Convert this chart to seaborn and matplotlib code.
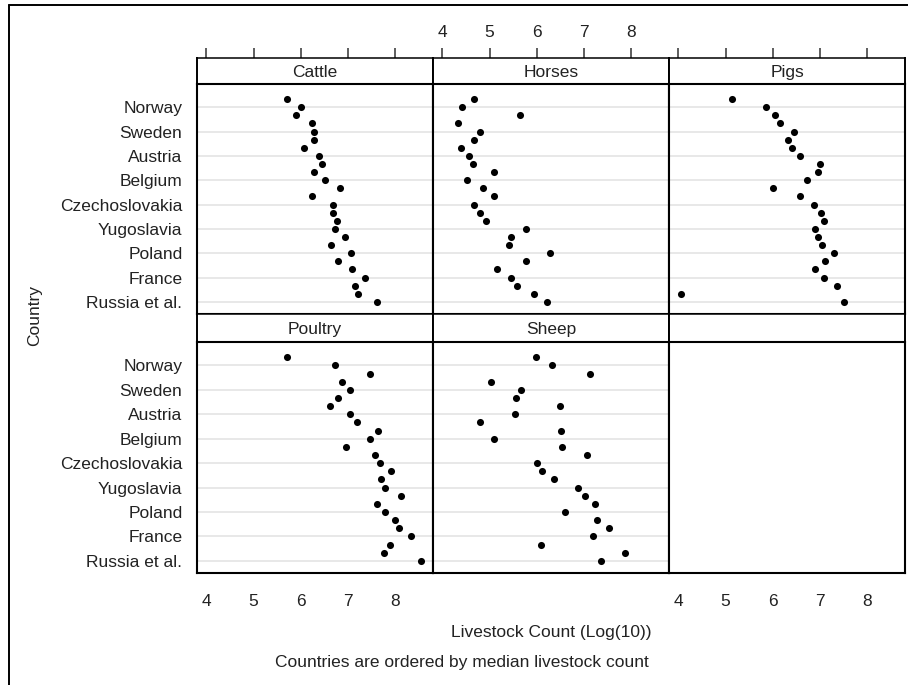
import matplotlib
matplotlib.use("Agg")
import matplotlib.pyplot as plt
from matplotlib.lines import Line2D
import numpy as np
import pandas as pd
import seaborn as sns

# ---------------- data ----------------
countries = ["Albania", "Norway", "Bulgaria", "Switzerland", "Sweden", "Finland",
             "Estonia", "Austria", "Latvia", "Lithuania", "Belgium", "Portugal",
             "Netherlands", "Czechoslovakia", "Denmark", "Irish Free State",
             "Yugoslavia", "Hungary", "Rumania", "Poland", "Spain", "Great Britain",
             "France", "Germany", "Turkey", "Russia et al."]
cattle = [5.70, 6.00, 5.90, 6.24, 6.27, 6.27, 6.06, 6.39, 6.45, 6.27, 6.51, 6.82, 6.24,
          6.69, 6.69, 6.76, 6.72, 6.94, 6.63, 7.06, 6.78, 7.09, 7.36, 7.15, 7.22, 7.61]
horses = [4.67, 4.42, 5.65, 4.34, 4.80, 4.67, 4.39, 4.57, 4.64, 5.10, 4.52, 4.85, 5.10,
          4.67, 4.80, 4.92, 5.78, 5.46, 5.41, 6.27, 5.78, 5.16, 5.46, 5.59, 5.93, 6.21]
pigs = [5.13, 5.86, 6.04, 6.16, 6.44, 6.32, 6.40, 6.58, 6.99, 6.96, 6.72, 6.00, 6.58,
        6.87, 7.02, 7.08, 6.89, 6.96, 7.05, 7.29, 7.11, 6.89, 7.08, 7.36, 4.06, 7.51]
poultry = [5.70, 6.72, 7.46, 6.88, 7.04, 6.79, 6.61, 7.04, 7.18, 7.64, 7.46, 6.96, 7.57,
           7.67, 7.91, 7.70, 7.79, 8.12, 7.61, 7.79, 8.00, 8.09, 8.33, 7.88, 7.76, 8.55]
sheep = [5.99, 6.33, 7.13, 5.03, 5.66, 5.56, 6.49, 5.53, 4.79, 6.52, 5.10, 6.54, 7.06,
         6.01, 6.11, 6.36, 6.87, 7.03, 7.24, 6.60, 7.28, 7.53, 7.18, 6.09, 7.86, 7.35]
species = ["Cattle", "Horses", "Pigs", "Poultry", "Sheep"]
x_ticks = [4, 5, 6, 7, 8]

series = {"Cattle": cattle, "Horses": horses, "Pigs": pigs,
          "Poultry": poultry, "Sheep": sheep}
df = pd.concat([pd.DataFrame({"Country": countries, "Row": np.arange(len(countries)),
                              "Species": sp, "Count": vals})
                for sp, vals in series.items()], ignore_index=True)

# ---------------- style ----------------
sns.set_style("white")
plt.rcParams["font.family"] = ["Liberation Sans", "DejaVu Sans"]
FS = 12.5
TXT = "#222222"

W, H = 908, 685
fig = plt.figure(figsize=(W / 100, H / 100), dpi=100)


def rect(x0, y0, x1, y1):
    return [x0 / W, 1 - y1 / H, (x1 - x0) / W, (y1 - y0) / H]


col_x = [197, 433, 669, 905]
rows_y = [(58, 84, 314), (314, 342, 573)]  # header top, panel top, panel bottom
XLIM = (3.8, 8.8)
YLIM = (26.5, -1.87)
label_rows = list(range(1, len(countries), 3))

for r in range(2):
    for c in range(3):
        idx = r * 3 + c
        htop, ptop, pbot = rows_y[r]
        x0, x1 = col_x[c], col_x[c + 1]
        # header strip
        hax = fig.add_axes(rect(x0, htop, x1, ptop))
        hax.set_xlim(*XLIM)
        hax.set_yticks([])
        for s in hax.spines.values():
            s.set_linewidth(1.4)
            s.set_color("black")
        hax.spines["top"].set_linewidth(1.1)
        if r == 0:
            hax.xaxis.tick_top()
            hax.set_xticks(x_ticks)
            hax.tick_params(axis="x", direction="out", length=7, width=1.1,
                            color="#333333", labelsize=FS, labelcolor=TXT, pad=6,
                            labeltop=(c == 1))
        else:
            hax.set_xticks([])
        if idx < len(species):
            hax.text(0.5, 0.45, species[idx], transform=hax.transAxes,
                     ha="center", va="center", fontsize=FS, color=TXT)
        # panel
        ax = fig.add_axes(rect(x0, ptop, x1, pbot))
        if idx < len(species):
            sub = df[df["Species"] == species[idx]]
            sns.scatterplot(data=sub, x="Count", y="Row", ax=ax, color="black",
                            s=26, linewidth=0, legend=False, zorder=3)
            ax.set_yticks(label_rows)
            ax.yaxis.grid(True, color="#e6e6e6", linewidth=1.3)
            ax.set_axisbelow(True)
        else:
            ax.set_yticks([])
        ax.set_xlim(*XLIM)
        ax.set_ylim(*YLIM)
        ax.set_xlabel("")
        ax.set_ylabel("")
        for s in ax.spines.values():
            s.set_linewidth(1.5)
            s.set_color("black")
        if c == 0:
            ax.set_yticklabels([countries[i] for i in label_rows])
            ax.tick_params(axis="y", direction="out", length=7.5, width=1.1,
                           color="#333333", labelsize=FS, labelcolor=TXT, pad=3)
        else:
            ax.tick_params(axis="y", length=0, labelleft=False)
        if r == 1:
            ax.set_xticks(x_ticks)
            ax.tick_params(axis="x", direction="out", length=7, width=1.1,
                           color="#333333", labelsize=FS, labelcolor=TXT, pad=8,
                           labelbottom=(c != 1))
        else:
            ax.set_xticks([])

fig.text(551 / W, 1 - 633 / H, "Livestock Count (Log(10))", ha="center",
         va="center", fontsize=FS, color=TXT)
fig.text(462 / W, 1 - 663 / H, "Countries are ordered by median livestock count",
         ha="center", va="center", fontsize=FS, color=TXT)
fig.text(35 / W, 1 - 316 / H, "Country", ha="center", va="center",
         rotation=90, fontsize=FS, color=TXT)

# outer border (top and left visible)
fig.add_artist(Line2D([8.5 / W, 8.5 / W], [0, 1 - 4.7 / H], color="black", lw=1.4))
fig.add_artist(Line2D([8.5 / W, 1], [1 - 4.7 / H, 1 - 4.7 / H], color="black", lw=1.4))

fig.savefig("out.png", dpi=100, facecolor="white")
